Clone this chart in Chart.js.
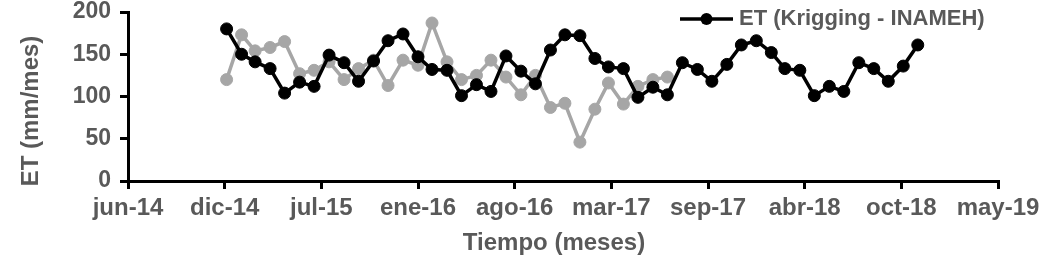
<!DOCTYPE html>
<html>
<head>
<meta charset="utf-8">
<script src="https://cdn.jsdelivr.net/npm/chart.js@4.4.1/dist/chart.umd.min.js"></script>
<style>
  html, body { margin: 0; padding: 0; background: #ffffff; }
  #wrap { width: 1050px; height: 263px; position: relative; }
</style>
</head>
<body>
<div id="wrap"><canvas id="c"></canvas></div>
<script>
// Monthly categories (year-month)
const categories = [
  '2014-12','2015-01','2015-02','2015-03','2015-04','2015-05','2015-06','2015-07','2015-08','2015-09','2015-10','2015-11',
  '2015-12','2016-01','2016-02','2016-03','2016-04','2016-05','2016-06','2016-07','2016-08','2016-09','2016-10','2016-11',
  '2016-12','2017-01','2017-02','2017-03','2017-04','2017-05','2017-06','2017-07','2017-08','2017-09','2017-10','2017-11',
  '2017-12','2018-01','2018-02','2018-03','2018-04','2018-05','2018-06','2018-07','2018-08','2018-09','2018-10','2018-11'
];
// ET (Krigging - INAMEH), mm/mes
const etKrigingInameh = [
  180,150,141,133,104,117,112,149,140,118,142,166,
  174,147,132,131,101,114,106,148,130,115,155,173,
  172,145,135,133,99,111,102,140,132,118,138,161,
  166,152,133,131,101,112,106,140,133,118,136,161
];
// Second (gray) series, mm/mes (Dec-14 .. Jun-17)
const etGray = [
  120,173,154,158,165,127,131,141,120,133,143,113,
  143,137,187,141,120,125,143,123,102,125,87,92,
  46,85,116,91,112,120,123
];
// X axis tick labels
const tickLabels = ['jun-14','dic-14','jul-15','ene-16','ago-16','mar-17','sep-17','abr-18','oct-18','may-19'];
const yTicks = [0, 50, 100, 150, 200];
const axisStart = '2014-06-10';
const tickStepDays = 200;

const legendLabel = 'ET (Krigging - INAMEH)';
const xTitle = 'Tiempo (meses)';
const yTitle = 'ET (mm/mes)';

function dayNum(y, m, d) { return Date.UTC(y, m, d) / 86400000; }
function monthEndDay(ym) {
  const [y, m] = ym.split('-').map(Number);
  return dayNum(y, m, 0); // last day of that month
}
const startParts = axisStart.split('-').map(Number);
const xMin = dayNum(startParts[0], startParts[1] - 1, startParts[2]);
const xMax = xMin + tickStepDays * (tickLabels.length - 1);

const blackData = etKrigingInameh.map((v, i) => ({ x: monthEndDay(categories[i]), y: v }));
const grayData = etGray.map((v, i) => ({ x: monthEndDay(categories[i]), y: v }));

const FONT = 'Liberation Sans, Arial, sans-serif';
const TXT = '#595959';
const GRAY = '#A6A6A6';

const overlay = {
  id: 'overlay',
  afterDraw(chart) {
    const ctx = chart.ctx;
    ctx.save();
    ctx.fillStyle = TXT;
    // y title
    ctx.save();
    ctx.translate(31, 111);
    ctx.rotate(-Math.PI / 2);
    ctx.font = 'bold 24px ' + FONT;
    ctx.textAlign = 'center';
    ctx.textBaseline = 'middle';
    ctx.fillText(yTitle, 0, 0);
    ctx.restore();
    // x title
    ctx.font = 'bold 24px ' + FONT;
    ctx.textAlign = 'center';
    ctx.textBaseline = 'middle';
    ctx.fillText(xTitle, 554, 243);
    // legend
    ctx.strokeStyle = '#000';
    ctx.lineWidth = 3.5;
    ctx.beginPath();
    ctx.moveTo(680, 19);
    ctx.lineTo(733, 19);
    ctx.stroke();
    ctx.beginPath();
    ctx.arc(706.5, 19, 6, 0, Math.PI * 2);
    ctx.fillStyle = '#000';
    ctx.fill();
    ctx.fillStyle = TXT;
    ctx.font = 'bold 22px ' + FONT;
    ctx.textAlign = 'left';
    ctx.textBaseline = 'middle';
    ctx.fillText(legendLabel, 739, 19);
    ctx.restore();
  }
};

new Chart(document.getElementById('c'), {
  type: 'line',
  data: {
    datasets: [
      {
        label: legendLabel,
        data: blackData,
        borderColor: '#000000',
        backgroundColor: '#000000',
        borderWidth: 3.5,
        pointRadius: 6,
        pointBorderWidth: 1,
        pointBorderColor: '#000000',
        pointBackgroundColor: '#000000',
        tension: 0,
        clip: false
      },
      {
        label: '',
        data: grayData,
        borderColor: GRAY,
        backgroundColor: GRAY,
        borderWidth: 3.5,
        pointRadius: 6,
        pointBorderWidth: 1,
        pointBorderColor: GRAY,
        pointBackgroundColor: GRAY,
        tension: 0,
        clip: false
      }
    ]
  },
  options: {
    responsive: true,
    maintainAspectRatio: false,
    animation: false,
    events: [],
    layout: { padding: { left: 0, right: 52, top: 0, bottom: 0 } },
    plugins: {
      legend: { display: false },
      tooltip: { enabled: false },
      title: { display: false }
    },
    scales: {
      x: {
        type: 'linear',
        min: xMin,
        max: xMax,
        afterBuildTicks(scale) {
          scale.ticks = tickLabels.map((_, i) => ({ value: xMin + tickStepDays * i }));
        },
        afterFit(scale) { scale.height = 82; },
        ticks: {
          autoSkip: false,
          maxRotation: 0,
          padding: 5,
          color: TXT,
          font: { family: FONT, size: 24, weight: 'bold' },
          callback(value, index) { return tickLabels[index]; }
        },
        grid: {
          drawOnChartArea: false,
          drawTicks: true,
          tickLength: 8,
          color: '#000000',
          lineWidth: 3
        },
        border: { display: true, color: '#000000', width: 3 }
      },
      y: {
        type: 'linear',
        min: 0,
        max: 200,
        afterBuildTicks(scale) {
          scale.ticks = yTicks.map(v => ({ value: v }));
        },
        afterFit(scale) {
          scale.width = 128;
          scale.paddingTop = 12;
          scale.paddingBottom = 0;
        },
        ticks: {
          padding: 9,
          color: TXT,
          font: { family: FONT, size: 23, weight: 'bold' }
        },
        grid: {
          drawOnChartArea: false,
          drawTicks: true,
          tickLength: 8,
          color: '#000000',
          lineWidth: 3
        },
        border: { display: true, color: '#000000', width: 3 }
      }
    }
  },
  plugins: [overlay]
});
</script>
</body>
</html>
